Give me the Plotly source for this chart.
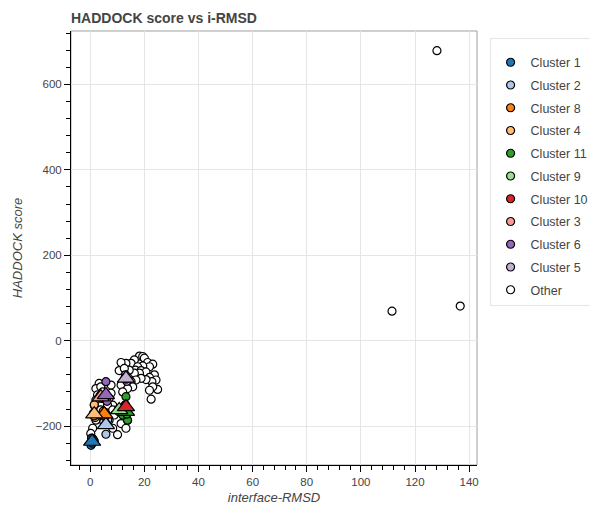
import plotly.graph_objects as go

# ---- data ----
cluster_names = ["Cluster 1", "Cluster 2", "Cluster 8", "Cluster 4", "Cluster 11",
                 "Cluster 9", "Cluster 10", "Cluster 3", "Cluster 6", "Cluster 5"]
cluster_colors = ["#1f77b4", "#aec7e8", "#ff7f0e", "#ffbb78", "#2ca02c",
                  "#98df8a", "#d62728", "#ff9896", "#9467bd", "#c5b0d5"]

# cluster member points (i-RMSD, HADDOCK score)
c1_x = [0.3, 0.8, 1.5, 0.5, 1.1]
c1_y = [-245, -240, -235, -228, -232]
c2_x = [5.8, 5.0, 6.5, 5.9]
c2_y = [-219, -190, -185, -195]
c8_x = [4.8, 5.5, 5.0, 5.6]
c8_y = [-165, -178, -175, -170]
c4_x = [1.5, 1.8, 1.2, 1.4]
c4_y = [-150, -180, -170, -176]
c11_x = [13.2, 13.8, 12.0, 13.5]
c11_y = [-131, -186, -174, -172]
c9_x = [10.5, 11.0, 10.8, 10.5]
c9_y = [-160, -165, -158, -166]
c10_x = [13.0, 13.5, 13.2, 12.8]
c10_y = [-150, -158, -160, -152]
c3_x = [3.5, 4.2, 3.8, 4.0]
c3_y = [-130, -135, -128, -134]
c6_x = [5.8, 5.5, 6.0, 6.2]
c6_y = [-96, -130, -140, -142]
c5_x = [13.0, 13.5, 13.2, 12.9]
c5_y = [-80, -95, -90, -86]

cluster_x = [c1_x, c2_x, c8_x, c4_x, c11_x, c9_x, c10_x, c3_x, c6_x, c5_x]
cluster_y = [c1_y, c2_y, c8_y, c4_y, c11_y, c9_y, c10_y, c3_y, c6_y, c5_y]

# cluster mean markers (triangles)
mean_x = [0.7, 5.8, 5.2, 1.5, 13.2, 10.7, 13.2, 3.9, 5.8, 13.2]
mean_y = [-236, -197, -172, -172, -166, -162, -155, -132, -127, -88]

# unclustered models
other_x = [18.2, 19.4, 20.0, 16.3, 15.1, 13.2, 11.4, 21.2, 23.1, 21.9, 19.4, 17.5,
           16.7, 18.8, 20.6, 18.2, 16.3, 14.4, 10.7, 12.6, 23.7, 21.9, 24.3, 22.8,
           20.6, 18.8, 16.9, 15.1, 15.7, 13.2, 11.4, 13.8, 12.0, 22.5, 24.9, 23.1,
           21.9, 3.3, 7.7, 2.1, 3.9, 4.6, 7.7, 2.7, 7.0, 8.3, 2.1, 1.5, 6.4, 3.9,
           8.3, 2.1, 7.0, 8.9, 0.9, 8.3, 11.4, 13.2, 13.8, 10.1, 0.2, 0.9,
           128.1, 111.5, 136.7]
other_y = [-36, -37, -41, -45, -53, -53, -51, -51, -55, -61, -59, -61,
           -69, -70, -73, -76, -76, -69, -70, -65, -80, -86, -92, -96,
           -91, -88, -92, -96, -108, -100, -104, -112, -120, -137, -114, -108,
           -116, -100, -104, -112, -108, -120, -123, -127, -135, -151, -139, -151, -151, -162,
           -162, -186, -186, -174, -205, -205, -194, -205, -186, -220, -217, -229,
           679, 69, 81]

FONT = "Liberation Sans, Arial, Helvetica, sans-serif"

fig = go.Figure()

fig.add_trace(go.Scatter(
    x=other_x, y=other_y, mode="markers", name="Other",
    legendgroup="Other", legendrank=1100,
    marker=dict(symbol="circle", size=8, color="white",
                line=dict(color="black", width=1.2)),
))

for i, name in enumerate(cluster_names):
    fig.add_trace(go.Scatter(
        x=cluster_x[i], y=cluster_y[i], mode="markers", name=name,
        legendgroup=name, legendrank=100 * (i + 1),
        marker=dict(symbol="circle", size=8, color=cluster_colors[i],
                    line=dict(color="black", width=1.2)),
    ))
for i, name in enumerate(cluster_names):
    fig.add_trace(go.Scatter(
        x=[mean_x[i]], y=[mean_y[i]], mode="markers", name=name,
        legendgroup=name, showlegend=False,
        marker=dict(symbol="triangle-up", size=15, color=cluster_colors[i],
                    line=dict(color="black", width=1.2)),
    ))

axis_common = dict(
    showgrid=True, gridcolor="#e5e5e5", gridwidth=1,
    zeroline=False, showline=True, linecolor="black", linewidth=1,
    ticks="outside", ticklen=6, tickcolor="black", tickwidth=1,
    tickfont=dict(family=FONT, size=11.5, color="#444"),
    minor=dict(ticks="outside", ticklen=4, tickcolor="black", showgrid=False),
)

fig.update_xaxes(**axis_common, range=[-7.1, 142.9], dtick=20, tick0=0,
                 title=dict(text="<i>interface-RMSD</i>", standoff=9,
                            font=dict(family=FONT, size=13, color="#444")))
fig.update_xaxes(minor_dtick=4)
fig.update_yaxes(**axis_common, range=[-291, 725], dtick=200, tick0=0,
                 title=dict(text="<i>HADDOCK score</i>", standoff=10,
                            font=dict(family=FONT, size=13, color="#444")))
fig.update_yaxes(minor_dtick=40)

fig.add_shape(type="rect", xref="paper", yref="paper", x0=0, y0=0, x1=1, y1=1,
              line=dict(color="#a0a0a0", width=1), layer="below")

fig.update_layout(
    width=590, height=505,
    margin=dict(l=71, r=113, t=31, b=40, autoexpand=False),
    plot_bgcolor="white", paper_bgcolor="white",
    title=dict(text="<b>HADDOCK score vs i-RMSD</b>", x=71 / 590, xanchor="left",
               xref="container", y=1 - 18 / 505, yanchor="middle",
               font=dict(family=FONT, size=14, color="#444")),
    legend=dict(x=1.031, y=0.985, xanchor="left", yanchor="top",
                bordercolor="#e5e5e5", borderwidth=1, bgcolor="white",
                font=dict(family=FONT, size=12.5, color="#444"),
                title=dict(text=" ", font=dict(size=7)),
                traceorder="grouped", tracegroupgap=3.5),
    showlegend=True,
)

fig.write_html("out.html")
